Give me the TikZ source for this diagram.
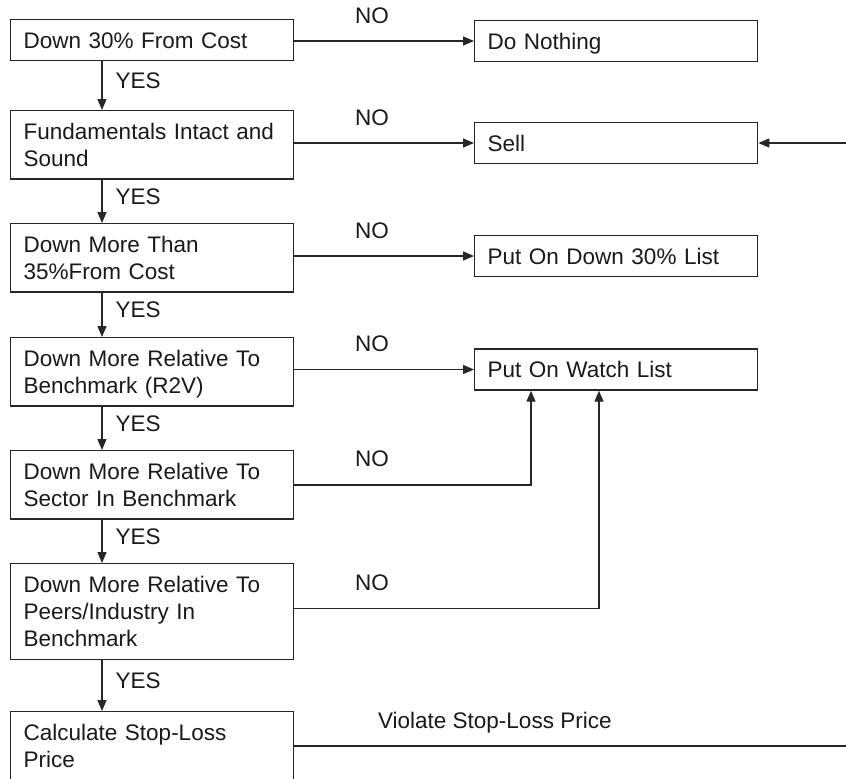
\documentclass[tikz,border=0pt]{standalone}
\usepackage{fontspec}
\setmainfont{Liberation Sans}
\usetikzlibrary{arrows.meta,positioning}

\newcommand{\TopStrut}{\rule{0pt}{14.25pt}}
\newcommand{\BotStrut}{\rule[-6.25pt]{0pt}{6.25pt}}

\begin{document}
\begin{tikzpicture}[
		x=0.5pt, y=-0.5pt,
		% boxes and labels
		stepbox/.style={draw=black!85, line width=0.7pt, inner xsep=6.5pt, inner ysep=0pt,
			text width=128.5pt, align=left, text=black!90,
			font=\fontsize{11.25pt}{13.65pt}\selectfont},
		flow/.style={draw=black!85, line width=0.7pt, -{Triangle[length=5.5pt,width=4.5pt]}},
		yeslabel/.style={anchor=base west, inner sep=0pt, xshift=6.5pt, yshift=-1.5pt,
			text=black!90, font=\fontsize{11.25pt}{13.65pt}\selectfont},
		nolabel/.style={anchor=base west, inner sep=0pt, xshift=30pt, yshift=9pt,
			text=black!90, font=\fontsize{11.25pt}{13.65pt}\selectfont},
		violabel/.style={anchor=base west, inner sep=0pt, xshift=41.5pt, yshift=8.5pt,
			text=black!90, font=\fontsize{11.25pt}{13.65pt}\selectfont}
	]
	\useasboundingbox (0,0) rectangle (846,778);
	\clip (0,0) rectangle (846,778);

	% questions down the left
	\node[stepbox, anchor=north west] (cost) at (10,19) {\TopStrut Down 30\% From Cost\BotStrut};
	\node[stepbox, anchor=north west] (fund) at (10,110) {\TopStrut Fundamentals Intact and\\Sound\BotStrut};
	\node[stepbox, anchor=north west] (more) at (10,223) {\TopStrut Down More Than\\35\%From Cost\BotStrut};
	\node[stepbox, anchor=north west] (bench) at (10,337) {\TopStrut Down More Relative To\\Benchmark (R2V)\BotStrut};
	\node[stepbox, anchor=north west] (sector) at (10,450) {\TopStrut Down More Relative To\\Sector In Benchmark\BotStrut};
	\node[stepbox, anchor=north west] (peers) at (10,563) {\TopStrut Down More Relative To\\Peers/Industry In\\Benchmark\BotStrut};
	\node[stepbox, anchor=north west] (calc) at (10,711) {\TopStrut Calculate Stop-Loss\\Price\BotStrut};

	% outcomes on the right
	\node[stepbox, anchor=west] (nothing) at (474,41) {\TopStrut Do Nothing\BotStrut};
	\node[stepbox, anchor=west] (sell) at (474,143) {\TopStrut Sell\BotStrut};
	\node[stepbox, anchor=west] (list30) at (474,256) {\TopStrut Put On Down 30\% List\BotStrut};
	\node[stepbox, anchor=west] (watch) at (474,369.5) {\TopStrut Put On Watch List\BotStrut};

	\coordinate (edge) at (850,0);

	% yes branches
	\foreach \from/\to in {cost/fund, fund/more, more/bench, bench/sector, sector/peers, peers/calc}
		\draw[flow] ([xshift=46pt]\from.south west) -- ([xshift=46pt]\to.north west) node[midway, yeslabel] {YES};

	% no branches
	\foreach \from/\to in {cost/nothing, fund/sell, more/list30, bench/watch}
		\draw[flow] (\from.east |- \to.west) node[nolabel] {NO} -- (\to.west);
	\draw[flow] (sector.east) node[nolabel] {NO} -| ([xshift=28.5pt]watch.south west);
	\draw[flow] ([yshift=1.5pt]peers.east) node[nolabel] {NO} -| ([xshift=62.5pt]watch.south west);

	% stop-loss loop back to sell
	\draw[flow] (calc.east) node[violabel] {Violate Stop-Loss Price} -- (calc.east -| edge) |- (sell.east);
\end{tikzpicture}
\end{document}
